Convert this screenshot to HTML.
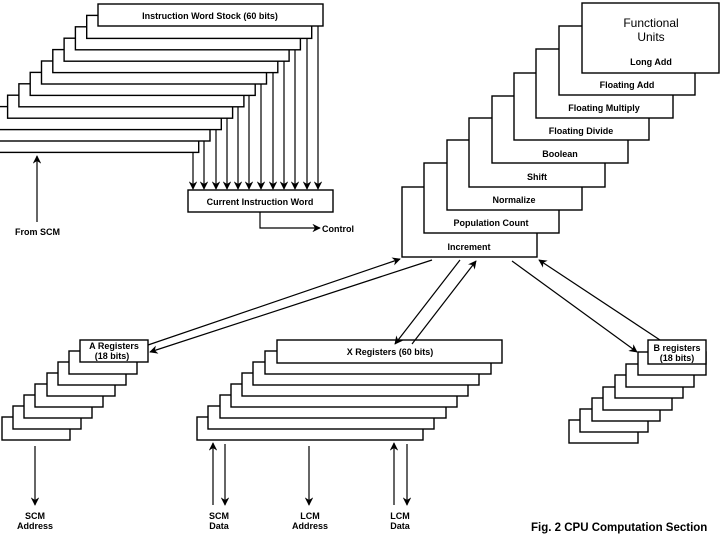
<!DOCTYPE html>
<html><head><meta charset="utf-8"><style>
body{margin:0;background:#fff}
svg{display:block}
text{font-family:"Liberation Sans",sans-serif;font-size:9px;font-weight:bold;fill:#000}
</style></head><body>
<svg width="720" height="540" viewBox="0 0 720 540" xmlns="http://www.w3.org/2000/svg">
<defs>
<marker id="a" viewBox="0 0 10 10" refX="9" refY="5" markerWidth="7" markerHeight="7" orient="auto-start-reverse"><path d="M0,0 L10,5 L0,10 L3,5 z" fill="#000"/></marker>
</defs>
<g fill="#fff" stroke="#000" stroke-width="1.4">
<rect x="-26.3" y="129.4" width="225" height="23"/>
<rect x="-15" y="118" width="225" height="23"/>
<rect x="-3.7" y="106.6" width="225" height="23"/>
<rect x="7.6" y="95.2" width="225" height="23"/>
<rect x="18.9" y="83.8" width="225" height="23"/>
<rect x="30.2" y="72.4" width="225" height="23"/>
<rect x="41.5" y="61" width="225" height="23"/>
<rect x="52.8" y="49.6" width="225" height="23"/>
<rect x="64.1" y="38.2" width="225" height="23"/>
<rect x="75.4" y="26.8" width="225" height="23"/>
<rect x="86.7" y="15.4" width="225" height="23"/>
<rect x="98" y="4" width="225" height="22"/>
<rect x="188" y="190" width="145" height="22"/>
<!-- functional units: front (Increment) first, top box last -->
<rect x="402" y="187" width="135" height="70"/>
<rect x="424" y="163" width="135" height="70"/>
<rect x="447" y="140" width="135" height="70"/>
<rect x="469" y="118" width="136" height="69"/>
<rect x="492" y="96" width="136" height="67"/>
<rect x="514" y="73" width="135" height="67"/>
<rect x="536" y="49" width="137" height="69"/>
<rect x="559" y="26" width="136" height="69"/>
<rect x="582" y="3" width="137" height="70"/>
<!-- A registers -->
<rect x="2" y="417" width="68" height="23"/>
<rect x="13" y="406" width="68" height="23"/>
<rect x="24" y="395" width="68" height="23"/>
<rect x="35" y="384" width="68" height="23"/>
<rect x="47" y="373" width="68" height="23"/>
<rect x="58" y="362" width="68" height="23"/>
<rect x="69" y="351" width="68" height="23"/>
<rect x="80" y="340" width="68" height="22"/>
<!-- X registers -->
<rect x="197" y="417" width="226" height="23"/>
<rect x="208" y="406" width="226" height="23"/>
<rect x="220" y="395" width="226" height="23"/>
<rect x="231" y="384" width="226" height="23"/>
<rect x="242" y="373" width="226" height="23"/>
<rect x="253" y="362" width="226" height="23"/>
<rect x="265" y="351" width="226" height="23"/>
<rect x="277" y="340" width="225" height="23"/>
<!-- B registers -->
<rect x="569" y="420" width="69" height="23"/>
<rect x="580" y="409" width="68" height="23"/>
<rect x="592" y="398" width="68" height="23"/>
<rect x="603" y="387" width="69" height="23"/>
<rect x="615" y="375" width="68" height="23"/>
<rect x="626" y="364" width="68" height="23"/>
<rect x="638" y="352" width="68" height="23"/>
<rect x="648" y="340" width="58" height="24"/>
</g>
<g stroke="#000" stroke-width="1.2" fill="none" marker-end="url(#a)">
<line x1="318" y1="26" x2="318" y2="189"/>
<line x1="307" y1="38" x2="307" y2="189"/>
<line x1="295" y1="50" x2="295" y2="189"/>
<line x1="284" y1="61" x2="284" y2="189"/>
<line x1="273" y1="73" x2="273" y2="189"/>
<line x1="261" y1="84" x2="261" y2="189"/>
<line x1="249" y1="95" x2="249" y2="189"/>
<line x1="238" y1="107" x2="238" y2="189"/>
<line x1="227" y1="118" x2="227" y2="189"/>
<line x1="216" y1="130" x2="216" y2="189"/>
<line x1="204" y1="141" x2="204" y2="189"/>
<line x1="193" y1="152" x2="193" y2="189"/>
<polyline points="260,212 260,228 320,228"/>
<line x1="37" y1="222" x2="37" y2="156"/>
<line x1="148" y1="345" x2="400" y2="259"/>
<line x1="432" y1="260" x2="150" y2="352"/>
<line x1="460" y1="260" x2="395" y2="344"/>
<line x1="412" y1="344" x2="476" y2="261"/>
<line x1="512" y1="261" x2="637" y2="352"/>
<line x1="660" y1="340" x2="539" y2="260"/>
<line x1="35" y1="446" x2="35" y2="505"/>
<line x1="213" y1="505" x2="213" y2="443"/>
<line x1="225" y1="444" x2="225" y2="505"/>
<line x1="309" y1="446" x2="309" y2="505"/>
<line x1="394" y1="505" x2="394" y2="443"/>
<line x1="407" y1="444" x2="407" y2="505"/>
</g>
<g text-anchor="middle">
<text x="210" y="19">Instruction Word Stock   (60 bits)</text>
<text x="260" y="205">Current Instruction Word</text>
<text x="651" y="27" style="font-size:12px;font-weight:normal">Functional</text>
<text x="651" y="41" style="font-size:12px;font-weight:normal">Units</text>
<text x="651" y="65">Long Add</text>
<text x="627" y="88">Floating Add</text>
<text x="604" y="111">Floating Multiply</text>
<text x="581" y="134">Floating Divide</text>
<text x="560" y="157">Boolean</text>
<text x="537" y="180">Shift</text>
<text x="514" y="203">Normalize</text>
<text x="491" y="226">Population Count</text>
<text x="469" y="250">Increment</text>
<text x="114" y="349">A Registers</text>
<text x="112" y="359">(18 bits)</text>
<text x="390" y="355">X Registers   (60 bits)</text>
<text x="677" y="351">B registers</text>
<text x="677" y="361">(18 bits)</text>
<text x="35" y="519">SCM</text>
<text x="35" y="529">Address</text>
<text x="219" y="519">SCM</text>
<text x="219" y="529">Data</text>
<text x="310" y="519">LCM</text>
<text x="310" y="529">Address</text>
<text x="400" y="519">LCM</text>
<text x="400" y="529">Data</text>
</g>
<text x="15" y="235">From SCM</text>
<text x="322" y="232">Control</text>
<text x="531" y="531" style="font-size:11.5px">Fig. 2 CPU Computation Section</text>
</svg>
</body></html>
